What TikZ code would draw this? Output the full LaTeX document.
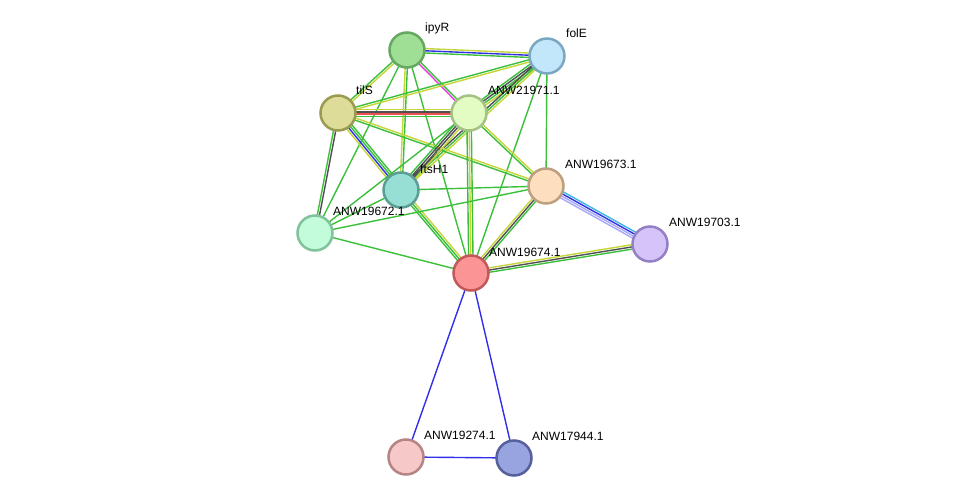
\documentclass[tikz,border=0pt]{standalone}
\usepackage{fontspec}
\setmainfont{Liberation Sans}
\usetikzlibrary{calc}
\definecolor{egreen}{HTML}{3CC03C}
\definecolor{eyellow}{HTML}{C6D53A}
\definecolor{egray}{HTML}{505050}
\definecolor{eblue}{HTML}{3030E8}
\definecolor{ered}{HTML}{F05050}
\definecolor{emag}{HTML}{E040D8}
\definecolor{ecyan}{HTML}{40B8E0}
\definecolor{elav}{HTML}{A8A8F8}
\newcommand\medge[4]{%
  \foreach \c [count=\i] in {#4} {%
    \pgfmathsetmacro\off{(\i-(#3+1)/2)*2.2}%
    \draw[edgeline,\c] ($(#1.center)!\off pt!90:(#2.center)$) -- ($(#2.center)!\off pt!-90:(#1.center)$);
  }%
}
\tikzset{
  edgeline/.style={line width=1.4pt},
  prot/.style={circle,minimum size=35pt,inner sep=0pt,line width=2.5pt},
  lbl/.style={anchor=base west,font=\fontsize{12}{14}\selectfont,inner sep=0pt}
}
\begin{document}
\begin{tikzpicture}[x=1pt,y=-1pt]
\useasboundingbox (0,0) rectangle (975,503);
\fill[white] (0,0) rectangle (975,503);
% coordinates of proteins
\coordinate (ipyR) at (407,50);
\coordinate (folE) at (547,56);
\coordinate (tilS) at (338,113);
\coordinate (A21971) at (469,113);
\coordinate (ftsH1) at (401,190);
\coordinate (A19673) at (546,186);
\coordinate (A19672) at (315,233);
\coordinate (A19703) at (650,244);
\coordinate (A19674) at (471,273);
\coordinate (A19274) at (406,457);
\coordinate (A17944) at (514,458);
% edges
\medge{ipyR}{folE}{3}{egreen,eblue,eyellow}
\medge{ipyR}{tilS}{2}{egreen,eyellow}
\medge{ipyR}{A21971}{2}{emag,egreen}
\medge{ipyR}{ftsH1}{2}{eyellow,egreen}
\medge{ipyR}{A19674}{1}{egreen}
\medge{ipyR}{A19672}{1}{egreen}
\medge{folE}{tilS}{2}{egreen,eyellow}
\medge{folE}{A21971}{4}{egreen,egray,egreen,eyellow}
\medge{folE}{ftsH1}{3}{egray,egreen,eyellow}
\medge{folE}{A19673}{1}{egreen}
\medge{folE}{A19674}{1}{egreen}
\medge{tilS}{A21971}{4}{egreen,ered,egray,eyellow}
\medge{tilS}{ftsH1}{4}{eyellow,eblue,egreen,egreen}
\medge{tilS}{A19672}{2}{egreen,egray}
\medge{tilS}{A19673}{2}{egreen,eyellow}
\medge{A21971}{A19673}{2}{egreen,eyellow}
\medge{A21971}{A19674}{3}{egreen,eyellow,egreen}
\medge{A21971}{A19672}{1}{egreen}
\medge{A21971}{ftsH1}{4}{egreen,egray,egray,eyellow}
\medge{ftsH1}{A19673}{1}{egreen}
\medge{ftsH1}{A19672}{1}{egreen}
\medge{ftsH1}{A19674}{3}{egreen,egreen,eyellow}
\medge{A19672}{A19673}{1}{egreen}
\medge{A19672}{A19674}{1}{egreen}
\medge{A19673}{A19674}{3}{eyellow,egray,egreen}
\medge{A19673}{A19703}{4}{elav,elav,eblue,ecyan}
\medge{A19674}{A19703}{3}{egreen,egray,eyellow}
\medge{A19674}{A19274}{1}{eblue}
\medge{A19674}{A17944}{1}{eblue}
\medge{A19274}{A17944}{1}{eblue}
% protein nodes
\node[prot,fill={rgb,255:red,159;green,223;blue,149},draw={rgb,255:red,102;green,168;blue,96}] (nipyR) at (ipyR) {};
\node[prot,fill={rgb,255:red,194;green,230;blue,250},draw={rgb,255:red,122;green,168;blue,192}] (nfolE) at (folE) {};
\node[prot,fill={rgb,255:red,221;green,221;blue,153},draw={rgb,255:red,154;green,154;blue,80}] (ntilS) at (tilS) {};
\node[prot,fill={rgb,255:red,226;green,252;blue,195},draw={rgb,255:red,164;green,194;blue,133}] (n21971) at (A21971) {};
\node[prot,fill={rgb,255:red,151;green,222;blue,212},draw={rgb,255:red,90;green,158;blue,148}] (nftsH1) at (ftsH1) {};
\node[prot,fill={rgb,255:red,253;green,223;blue,192},draw={rgb,255:red,188;green,160;blue,128}] (n19673) at (A19673) {};
\node[prot,fill={rgb,255:red,194;green,252;blue,218},draw={rgb,255:red,128;green,194;blue,155}] (n19672) at (A19672) {};
\node[prot,fill={rgb,255:red,212;green,196;blue,250},draw={rgb,255:red,148;green,128;blue,196}] (n19703) at (A19703) {};
\node[prot,fill={rgb,255:red,251;green,148;blue,148},draw={rgb,255:red,194;green,88;blue,88}] (n19674) at (A19674) {};
\node[prot,fill={rgb,255:red,247;green,200;blue,200},draw={rgb,255:red,181;green,133;blue,133}] (n19274) at (A19274) {};
\node[prot,fill={rgb,255:red,152;green,164;blue,224},draw={rgb,255:red,86;green,96;blue,156}] (n17944) at (A17944) {};
% labels
\node[lbl] (lipyR) at ($(ipyR)+(18,-18)$) {ipyR};
\node[lbl] (lfolE) at ($(folE)+(19,-18)$) {folE};
\node[lbl] (ltilS) at ($(tilS)+(18,-18)$) {tilS};
\node[lbl] (l21971) at ($(A21971)+(19,-18)$) {ANW21971.1};
\node[lbl] (lftsH1) at ($(ftsH1)+(19,-17)$) {ftsH1};
\node[lbl] (l19673) at ($(A19673)+(19,-18)$) {ANW19673.1};
\node[lbl] (l19672) at ($(A19672)+(18,-18)$) {ANW19672.1};
\node[lbl] (l19703) at ($(A19703)+(19,-18)$) {ANW19703.1};
\node[lbl] (l19674) at ($(A19674)+(18,-17)$) {ANW19674.1};
\node[lbl] (l19274) at ($(A19274)+(18,-18)$) {ANW19274.1};
\node[lbl] (l17944) at ($(A17944)+(18,-18)$) {ANW17944.1};
\end{tikzpicture}
\end{document}
